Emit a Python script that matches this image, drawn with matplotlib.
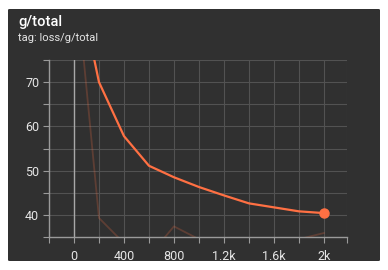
import matplotlib
matplotlib.use("Agg")
import matplotlib.pyplot as plt
from matplotlib.patches import FancyBboxPatch
from matplotlib.ticker import FixedLocator, FuncFormatter

# data
steps = [0, 200, 400, 600, 800, 1000, 1200, 1400, 1600, 1800, 2000]
smoothed = [97.0, 70.0, 57.8, 51.1, 48.5, 46.3, 44.4, 42.6, 41.7, 40.8, 40.4]
raw = [98.0, 39.3, 33.6, 30.7, 37.4, 34.5, 33.0, 31.0, 33.5, 34.5, 35.9]

title = "g/total"
tag = "tag: loss/g/total"

plt.rcParams["font.family"] = ["Roboto", "DejaVu Sans"]

W, H = 388, 270
fig = plt.figure(figsize=(W / 100, H / 100), dpi=100)
fig.patch.set_facecolor("white")

card_bg = "#303030"
grid_c = "#525252"
spine_c = "#9a9a9a"
text_c = "#e6e6e6"
orange = "#ff7043"

card = FancyBboxPatch((8 / W, 9 / H), 372 / W, 252 / H,
                      boxstyle="round,pad=0,rounding_size=0.004",
                      transform=fig.transFigure, facecolor=card_bg,
                      edgecolor="none", zorder=-5)
fig.patches.append(card)

fig.text(18 / W, 1 - 22 / H, title, color="white", fontsize=10.5,
         fontweight="medium", va="center", ha="left")
fig.text(18 / W, 1 - 38 / H, tag, color=text_c, fontsize=8,
         va="center", ha="left")

ax = fig.add_axes([49 / W, 33 / H, 298 / W, 177 / H])
ax.set_zorder(2)
ax.set_facecolor(card_bg)
ax.set_xlim(-200, 2185)
ax.set_ylim(35, 75)

# grid / ticks
ax.xaxis.set_major_locator(FixedLocator([0, 400, 800, 1200, 1600, 2000]))
ax.xaxis.set_minor_locator(FixedLocator([-200, 200, 600, 1000, 1400, 1800, 2185]))
ax.yaxis.set_major_locator(FixedLocator([40, 50, 60, 70]))
ax.yaxis.set_minor_locator(FixedLocator([35, 45, 55, 65, 75]))


def kfmt(v, pos):
    if v == 0:
        return "0"
    if abs(v) >= 1000:
        s = f"{v / 1000:.1f}".rstrip("0").rstrip(".")
        return s + "k"
    return f"{v:.0f}"


ax.xaxis.set_major_formatter(FuncFormatter(kfmt))
ax.grid(True, which="both", color=grid_c, lw=0.8)
ax.set_axisbelow(True)
ax.tick_params(which="both", colors=spine_c, length=4, width=0.8,
               labelcolor=text_c, labelsize=9)
ax.tick_params(axis="x", pad=5)
ax.tick_params(axis="y", pad=3)

for side in ["top", "right"]:
    ax.spines[side].set_visible(False)
for side in ["left", "bottom"]:
    ax.spines[side].set_color(spine_c)
    ax.spines[side].set_linewidth(1.0)

ax.axvline(0, color="#a8a8a8", lw=1.0, zorder=1)

ax.plot(steps, raw, color=orange, alpha=0.22, lw=1.3, zorder=2,
        solid_joinstyle="round")
ax.plot(steps, smoothed, color=orange, lw=1.6, zorder=3,
        solid_joinstyle="round")
ax.plot(steps[-1:], smoothed[-1:], "o", color=orange, ms=6.5, zorder=4)

fig.savefig("out.png", dpi=100, facecolor="white")
